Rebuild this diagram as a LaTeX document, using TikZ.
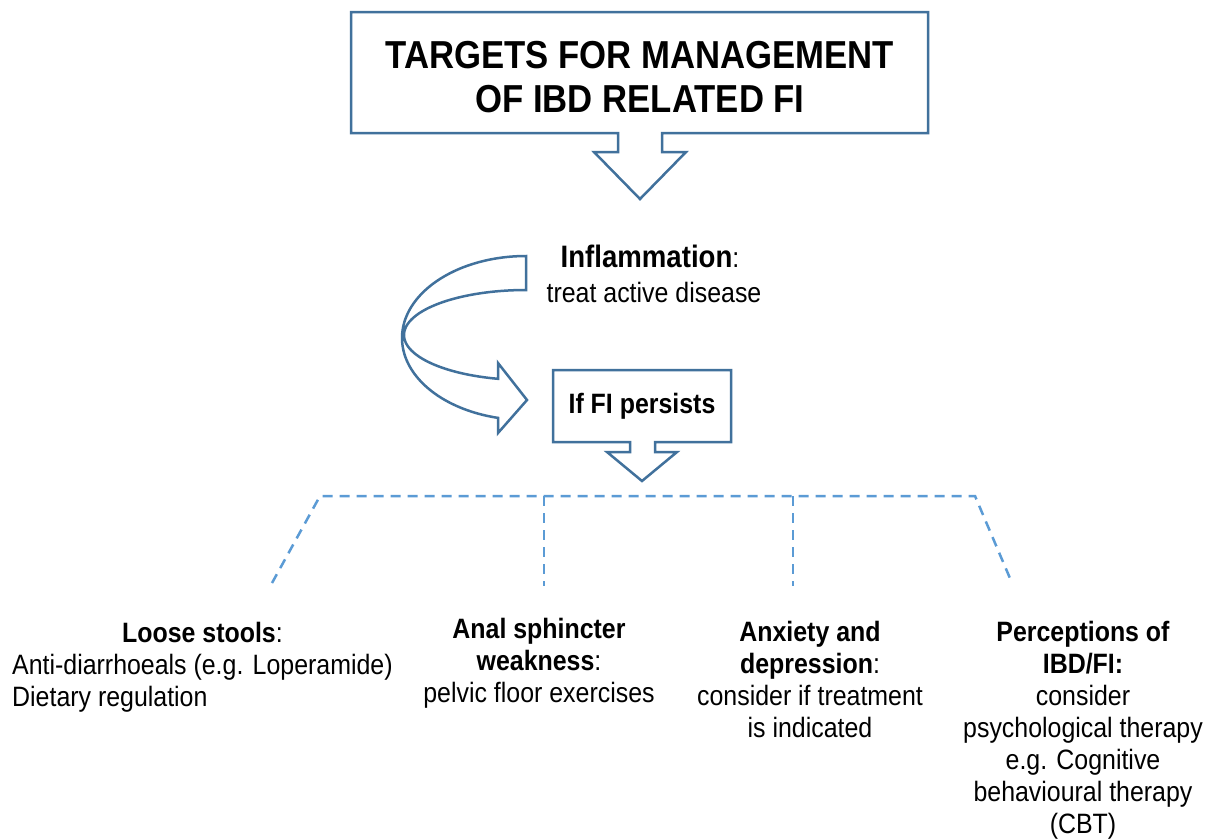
\documentclass[tikz,border=0pt]{standalone}
\usepackage{fontspec}
\setmainfont{Liberation Sans}[FakeStretch=0.89]
\definecolor{arrowblue}{HTML}{41719C}
\definecolor{dashblue}{HTML}{5B9BD5}
\begin{document}
\begin{tikzpicture}[x=1pt,y=-1pt,
  blockarrow/.style={draw=arrowblue, line width=2.5pt, fill=white, line join=miter},
  dashline/.style={draw=dashblue, line width=2.5pt, dash pattern=on 10pt off 7pt},
  txt/.style={inner sep=0pt, anchor=base, font=\fontsize{28}{32}\selectfont},
  titletxt/.style={inner sep=0pt, anchor=base, font=\fontsize{39}{44}\selectfont\bfseries}]
\useasboundingbox[fill=white] (0,0) rectangle (1215,839);

% title callout
\draw[blockarrow] (351,12) -- (928,12) -- (928,133) -- (662,133) -- (662,152) -- (686,152)
  -- (640,199) -- (594,152) -- (618,152) -- (618,133) -- (351,133) -- cycle;
\node[titletxt] (title) at (640,68) {\begin{tabular}[t]{@{}c@{}}TARGETS FOR MANAGEMENT\\OF IBD RELATED FI\end{tabular}};

% curved arrow
\draw[blockarrow] plot[domain=270:103.05, samples=90, variable=\t] ({526+124*cos(\t)},{338+82*sin(\t)})
  -- (498,433) -- (527,400) -- (498,363)
  -- plot[domain=103.27:270, samples=90, variable=\t] ({526+122*cos(\t)},{335+45*sin(\t)}) -- cycle;

% inflammation
\node[txt, font=\fontsize{31}{35}\selectfont] (inflam) at (650,267) {\textbf{Inflammation}{\fontsize{28}{32}\selectfont:}};
\node[txt] (treat) at (654,302) {treat active disease};

% FI persists callout
\draw[blockarrow] (553,370) -- (731,370) -- (731,442) -- (655,442) -- (655,452) -- (677,452)
  -- (642,481) -- (607,452) -- (630,452) -- (630,442) -- (553,442) -- cycle;
\node[txt] (persist) at (642,413) {\textbf{If FI persists}};

% dashed bracket
\coordinate (dl) at (272,583);
\coordinate (dtl) at (320,496);
\coordinate (dtr) at (975,496);
\coordinate (dr) at (1012,583);
\coordinate (v1t) at (544,496);
\coordinate (v1b) at (544,586);
\coordinate (v2t) at (793,496);
\coordinate (v2b) at (793,586);
\draw[dashline] (dl) -- (dtl) -- (dtr) -- (dr);
\draw[dashline] (v1t) -- (v1b);
\draw[dashline] (v2t) -- (v2b);

% bottom texts
\node[txt, anchor=base west] (loose) at (12,642) {\begin{tabular}[t]{@{}l@{}}\multicolumn{1}{@{}c@{}}{\textbf{Loose stools}:}\\Anti-diarrhoeals (e.g. Loperamide)\\Dietary regulation\end{tabular}};
\node[txt] (anal) at (539,638) {\begin{tabular}[t]{@{}c@{}}\textbf{Anal sphincter}\\\textbf{weakness}:\\pelvic floor exercises\end{tabular}};
\node[txt] (anx) at (810,641) {\begin{tabular}[t]{@{}c@{}}\textbf{Anxiety and}\\\textbf{depression}:\\consider if treatment\\is indicated\end{tabular}};
\node[txt] (perc) at (1083,641) {\begin{tabular}[t]{@{}c@{}}\textbf{Perceptions of}\\\textbf{IBD/FI:}\\consider\\psychological therapy\\e.g. Cognitive\\behavioural therapy\\(CBT)\end{tabular}};
\end{tikzpicture}
\end{document}
